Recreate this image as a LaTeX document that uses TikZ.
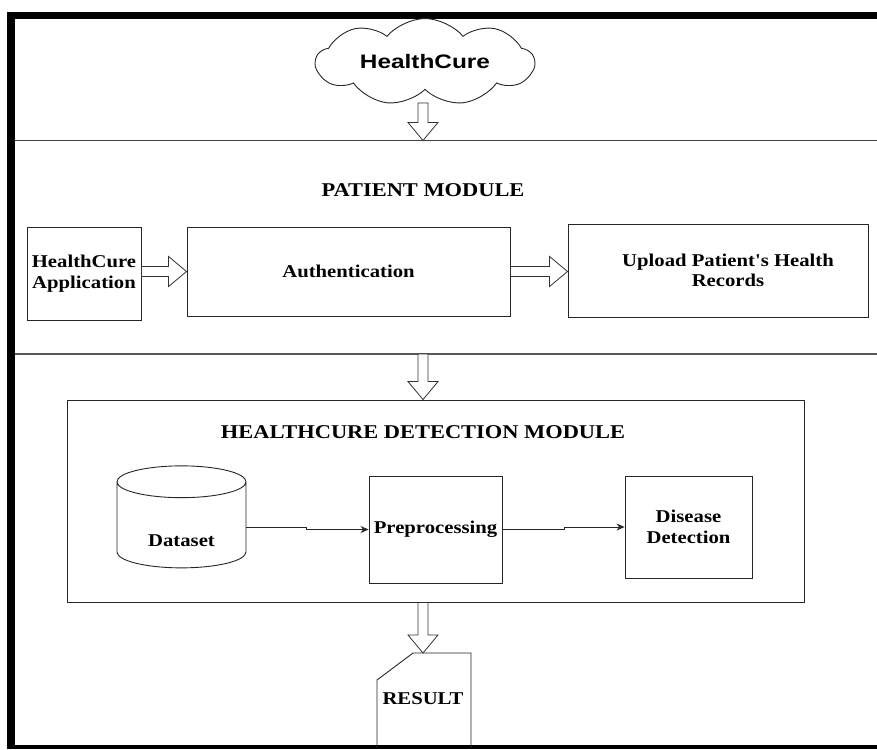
\documentclass[tikz,border=0pt]{standalone}
\usepackage{fontspec}
\setmainfont{Liberation Serif}[FakeStretch=1.15, Ligatures=TeXOff]
\newfontfamily\cloudfont{Liberation Sans}[FakeStretch=1.25]
\usetikzlibrary{shapes.symbols, shapes.geometric, arrows.meta, calc}

\tikzset{
  box/.style={draw=black!85, line width=0.9pt, align=center, inner sep=2pt,
    font=\fontsize{18}{20.5}\selectfont\bfseries},
  title/.style={font=\fontsize{19.5}{22}\selectfont\bfseries},
  flow/.style={draw=black!85, line width=0.8pt, -{Stealth[length=8pt, width=7pt]}},
  hollow/.style={draw=black!80, fill=white, line width=0.8pt,
    to path={let \p1=(\tikztostart), \p2=(\tikztotarget),
      \n1={atan2(\y2-\y1,\x2-\x1)}, \n2={veclen(\x2-\x1,\y2-\y1)-18} in
      [shift={(\p1)}, rotate=\n1]
      (0pt,5pt) -- ({\n2*1pt},5pt) -- ({\n2*1pt},15pt) -- ({(\n2+18)*1pt},0pt)
      -- ({\n2*1pt},-15pt) -- ({\n2*1pt},-5pt) -- (0pt,-5pt) -- cycle}},
}

\begin{document}
\begin{tikzpicture}[x=1pt, y=-1pt]
  \useasboundingbox (0,0) rectangle (877,749);
  % Frame
  \fill (7,12) rectangle (877,19);
  \fill (7,12) rectangle (15,749);
  \fill (7,745) rectangle (877,749);

  % Patient band
  \draw[black!75, line width=1pt] (15,140.5) -- (877,140.5);
  \draw[black!65, line width=1.5pt] (15,354) -- (877,354);
  \coordinate (ptop) at (423,140.5);
  \coordinate (pbot) at (423,354);

  % Nodes
  \node[cloud, draw=black!85, line width=0.9pt, cloud puffs=9, cloud puff arc=100, aspect=3,
    minimum width=218pt, minimum height=74pt, inner sep=0pt] (cloud) at (425,62)
    {\cloudfont\fontsize{19.5}{22}\selectfont\bfseries HealthCure};
  \coordinate (ctail) at (423,103);
  \node[title] (ptitle) at (423,190) {PATIENT MODULE};
  \node[box, minimum width=114pt, minimum height=93pt] (app) at (84,273.5) {HealthCure\\Application};
  \node[box, minimum width=323pt, minimum height=89pt] (auth) at (348.5,271.5) {Authentication};
  \node[box, minimum width=300pt, minimum height=93pt, inner xsep=0pt] (upload) at (718,270.5)
    {\hspace{20pt}Upload Patient's Health\\\hspace{20pt}Records};

  \node[draw=black!85, line width=0.9pt, minimum width=737pt, minimum height=202pt] (det) at (435.5,501) {};
  \node[title] (dtitle) at (423,432) {HEALTHCURE DETECTION MODULE};
  \node[box, cylinder, shape border rotate=90, aspect=0.45, minimum width=129pt, minimum height=102pt]
    (data) at (181.5,527) {\raisebox{-19pt}[0pt][0pt]{Dataset}};
  \node[box, minimum width=133pt, minimum height=107pt] (prep) at (435.5,529.5) {Preprocessing};
  \node[box, minimum width=127pt, minimum height=102pt] (dis) at (688.5,527) {Disease\\Detection};

  \node[box, draw=none] (result) at (423,699) {RESULT};
  \coordinate (rtop) at (423,653);
  \draw[black!85, line width=0.9pt] (377,749) -- (377,680) -- (413,653) -- (471,653) -- (471,749);

  % Lines
  \draw[hollow] (ctail) to (ptop);
  \draw[hollow] (app.east |- auth.west) to (auth.west);
  \draw[hollow] (auth.east) to (upload.west |- auth.east);
  \draw[hollow] (pbot) to (pbot |- det.north);
  \draw[hollow] (pbot |- det.south) to (rtop);
  \draw[flow] (data.east) -- ++(60,0) |- (prep.west);
  \draw[flow] (prep.east) -- ++(62,0) |- (dis.west);
\end{tikzpicture}
\end{document}
